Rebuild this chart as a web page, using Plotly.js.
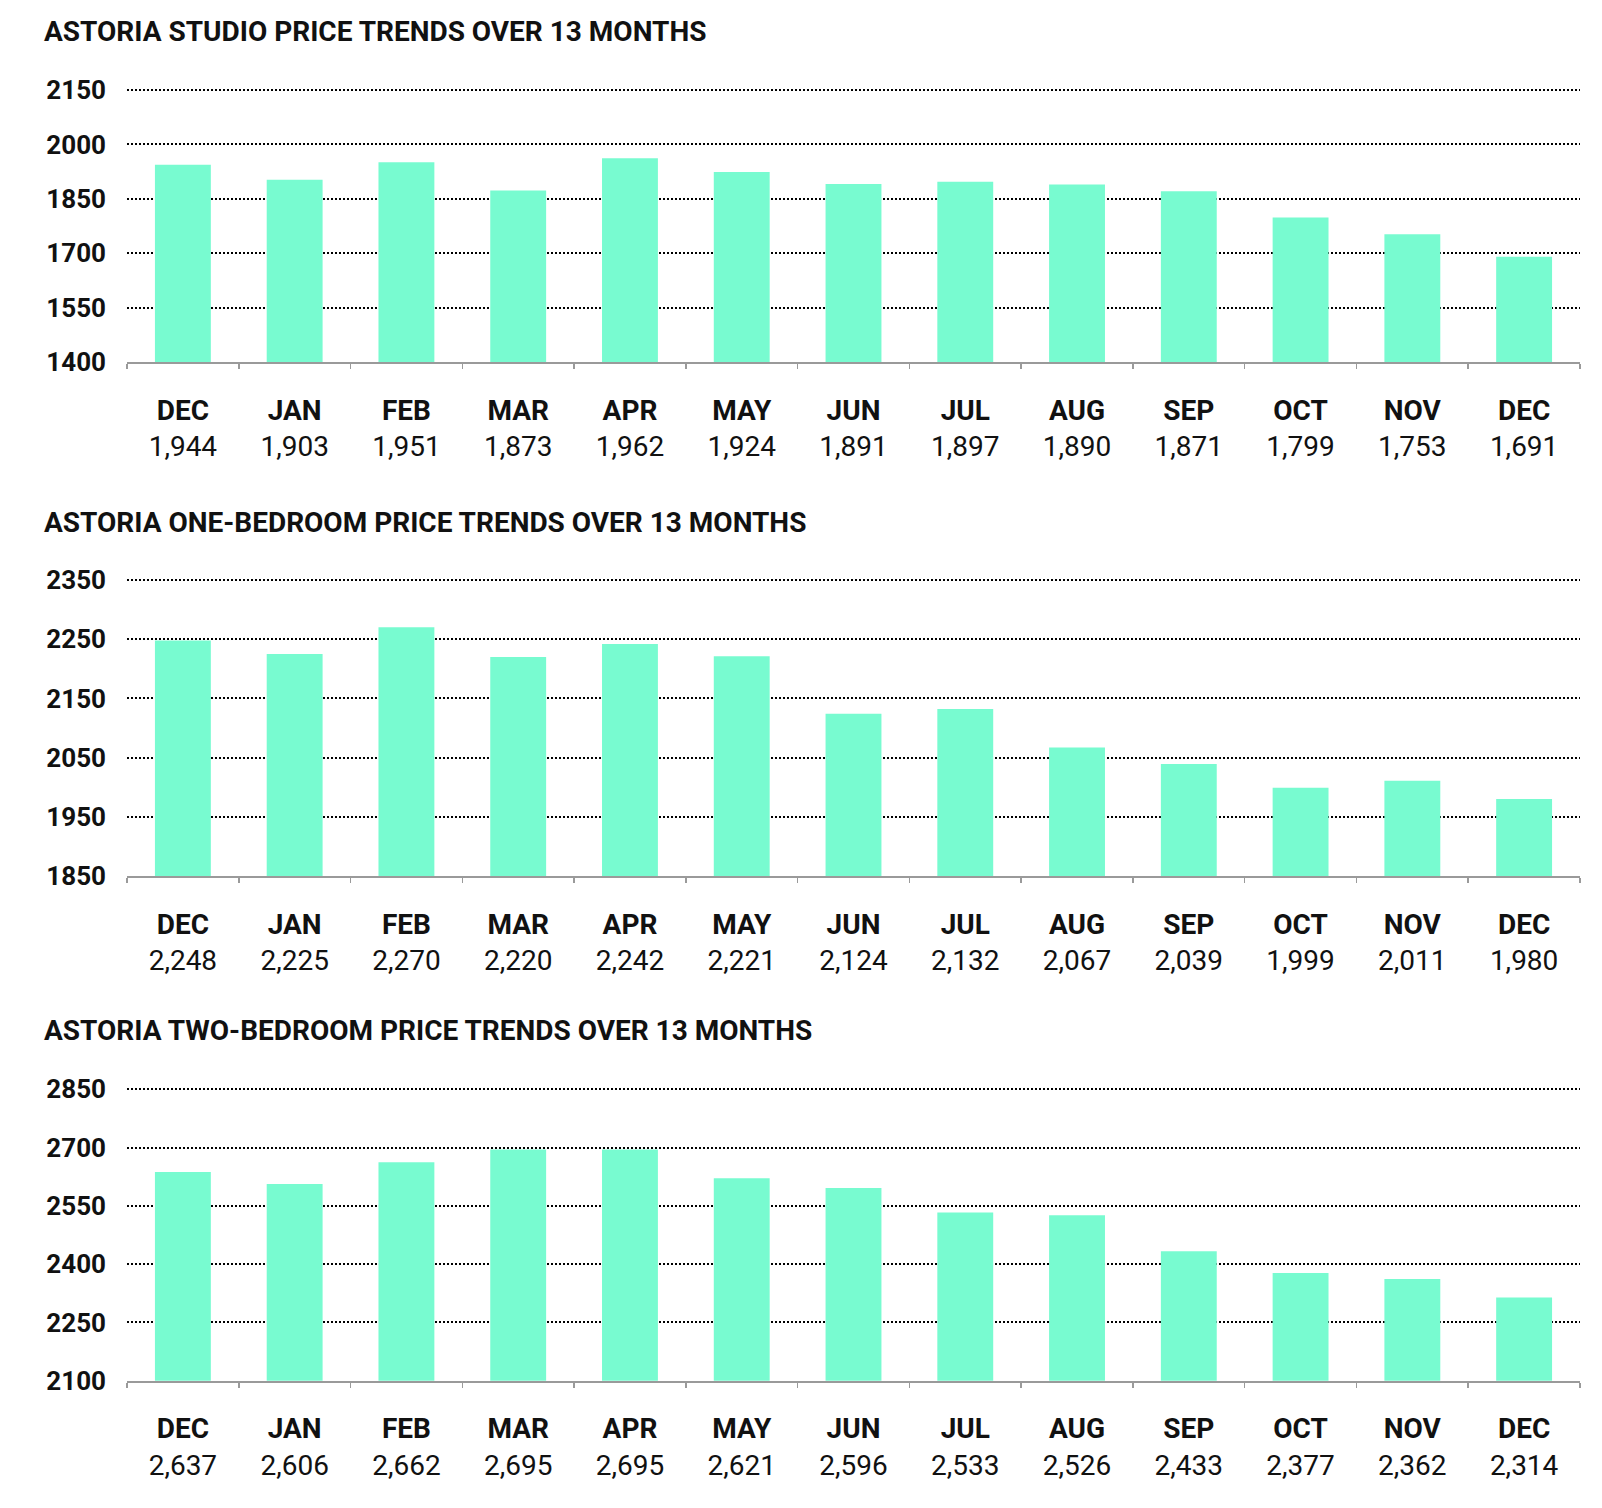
<!DOCTYPE html>
<html>
<head>
<meta charset="utf-8">
<script src="https://cdn.plot.ly/plotly-3.0.1.min.js"></script>
<style>
  html, body { margin: 0; padding: 0; background: #ffffff; }
  #chart { width: 1602px; height: 1508px; }
</style>
</head>
<body>
<div id="chart"></div>
<script>
// ---- Data ----
const months = ["DEC", "JAN", "FEB", "MAR", "APR", "MAY", "JUN", "JUL", "AUG", "SEP", "OCT", "NOV", "DEC"];

const studioTitle = "ASTORIA STUDIO PRICE TRENDS OVER 13 MONTHS";
const studioPrices = [1944, 1903, 1951, 1873, 1962, 1924, 1891, 1897, 1890, 1871, 1799, 1753, 1691];
const studioTicks = [1400, 1550, 1700, 1850, 2000, 2150];

const oneBedTitle = "ASTORIA ONE-BEDROOM PRICE TRENDS OVER 13 MONTHS";
const oneBedPrices = [2248, 2225, 2270, 2220, 2242, 2221, 2124, 2132, 2067, 2039, 1999, 2011, 1980];
const oneBedTicks = [1850, 1950, 2050, 2150, 2250, 2350];

const twoBedTitle = "ASTORIA TWO-BEDROOM PRICE TRENDS OVER 13 MONTHS";
const twoBedPrices = [2637, 2606, 2662, 2695, 2695, 2621, 2596, 2533, 2526, 2433, 2377, 2362, 2314];
const twoBedTicks = [2100, 2250, 2400, 2550, 2700, 2850];

// ---- Build ----
const FONT = "Roboto, 'Liberation Sans', Arial, sans-serif";
const BAR = "rgb(120,251,208)";
const H = 1508;
const ids = months.map((m, i) => m + "_" + i);
const fmt = v => v.toLocaleString("en-US");

// pixel positions of the bottom axis and top gridline of each panel
const panels = [
  {title: studioTitle, values: studioPrices, ticks: studioTicks, top: 90, bottom: 362.3, ty: 31},
  {title: oneBedTitle, values: oneBedPrices, ticks: oneBedTicks, top: 580, bottom: 876, ty: 522},
  {title: twoBedTitle, values: twoBedPrices, ticks: twoBedTicks, top: 1089.3, bottom: 1380.7, ty: 1030.7}
];
const PAD = 4; // extra pixels above the top gridline so it is not clipped

const data = [];
const layout = {
  width: 1602, height: 1508,
  margin: {l: 0, r: 0, t: 0, b: 0},
  paper_bgcolor: "#ffffff", plot_bgcolor: "#ffffff",
  showlegend: false,
  bargap: 0.5,
  font: {family: FONT, color: "#111111"},
  annotations: []
};

panels.forEach((p, k) => {
  const n = k === 0 ? "" : String(k + 1);
  const lo = p.ticks[0], hi = p.ticks[p.ticks.length - 1];
  const hpx = p.bottom - p.top;
  const hiPadded = hi + PAD * (hi - lo) / hpx;
  data.push({
    type: "bar",
    x: ids,
    y: p.values,
    xaxis: "x" + n,
    yaxis: "y" + n,
    marker: {color: BAR, line: {width: 0}},
    hoverinfo: "skip"
  });
  layout["xaxis" + n] = {
    domain: [127 / 1602, 1580 / 1602],
    anchor: "y" + n,
    type: "category",
    tickmode: "array",
    tickvals: ids,
    ticktext: months.map((m, i) => "<b>" + m + "</b><br>" + fmt(p.values[i])),
    tickson: "boundaries",
    ticks: "outside",
    ticklen: 5,
    tickwidth: 1.5,
    tickcolor: "#9a9a9a",
    showline: true,
    linecolor: "#9a9a9a",
    linewidth: 2,
    showgrid: false,
    zeroline: false,
    ticklabelstandoff: 22,
    tickfont: {family: FONT, size: 28, color: "#111111"},
    fixedrange: true
  };
  layout["yaxis" + n] = {
    domain: [1 - p.bottom / H, 1 - (p.top - PAD) / H],
    anchor: "x" + n,
    range: [lo, hiPadded],
    tickmode: "array",
    tickvals: p.ticks,
    ticktext: p.ticks.map(String),
    showgrid: true,
    gridcolor: "#000000",
    gridwidth: 2,
    griddash: "2px,2px",
    showline: false,
    zeroline: false,
    ticks: "",
    ticklabelstandoff: 20,
    tickfont: {family: FONT, size: 26, color: "#111111", weight: "bold"},
    fixedrange: true
  };
  layout.annotations.push({
    xref: "paper", yref: "paper",
    x: 42 / 1602, y: 1 - p.ty / H,
    xanchor: "left", yanchor: "middle",
    showarrow: false,
    text: "<b>" + p.title + "</b>",
    font: {family: FONT, size: 28, color: "#111111"}
  });
});

Plotly.newPlot("chart", data, layout, {displayModeBar: false, staticPlot: true});
</script>
</body>
</html>
